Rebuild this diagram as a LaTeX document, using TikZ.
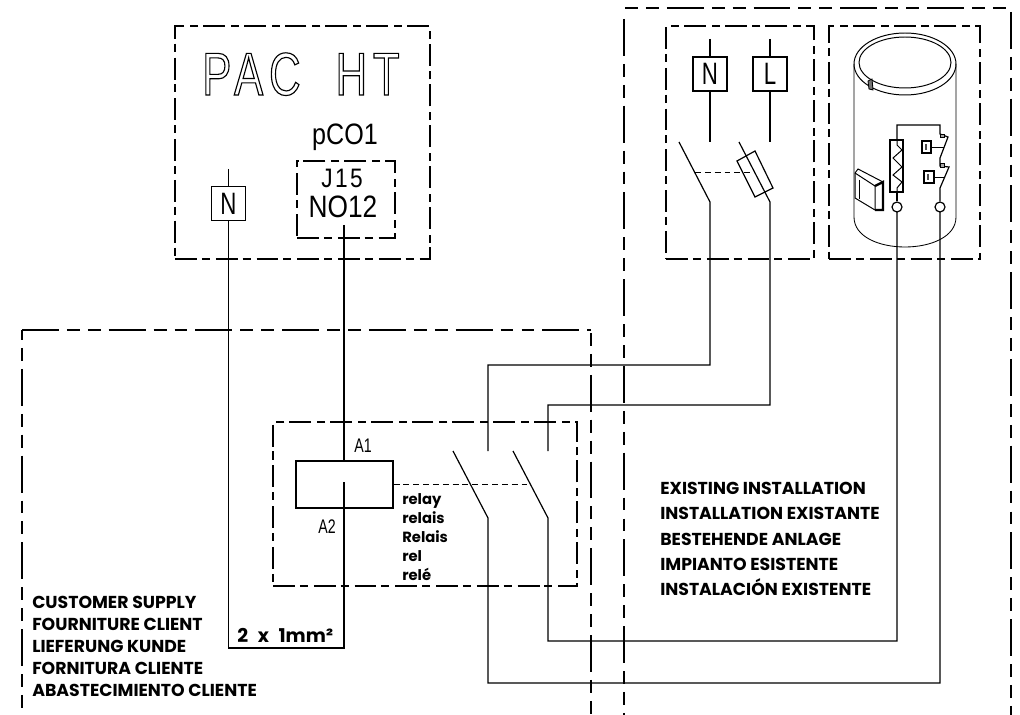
\documentclass[tikz,border=0pt]{standalone}
\usepackage{fontspec}
\setmainfont{Poppins}
\newfontfamily\cadfont[FakeStretch=0.85]{Liberation Sans}
\newfontfamily\cadnarrow[FakeStretch=0.72]{Liberation Sans}
\newfontfamily\cadwide[FakeStretch=0.72,LetterSpace=10]{Liberation Sans}
\newfontfamily\cadspaced[FakeStretch=0.85,LetterSpace=9]{Liberation Sans}
\def\px{0.25mm}

\begin{document}
\begin{tikzpicture}[
    x=0.25mm, y=-0.25mm,
    heavybox/.style={draw=black, line width=2pt, dash pattern=on 26.2pt off 5.7pt on 9.2pt off 5.7pt on 9.2pt off 5.7pt},
    thinbox/.style={draw=black, line width=0.95pt, inner sep=0pt, dash pattern=on 15.6pt off 3.5pt on 5.7pt off 4.2pt},
    wire/.style={draw=black, line width=0.85pt},
    link/.style={draw=black, line width=0.7pt, dash pattern=on 4.2pt off 2.8pt},
    termbox/.style={draw=black, fill=white, line width=0.85pt, inner sep=0pt, minimum size=34*\px, font=\cadnarrow\fontsize{22}{22}\selectfont},
    term/.style={circle, draw=black, fill=white, line width=0.85pt, inner sep=0pt, minimum size=10*\px},
    cad/.style={inner sep=0pt, font=\cadnarrow\fontsize{14}{14}\selectfont},
    label/.style={inner sep=0pt, anchor=north west, align=left}
  ]
    \useasboundingbox (0,0) rectangle (1020,715);

    % Zones client / existant
    \draw[heavybox] (22,330) -- (591,330);
    \draw[heavybox, dash phase=34pt] (22,330) -- (22,715);
    \draw[heavybox, dash phase=31.9pt] (591,333) -- (591,715);
    \draw[heavybox, dash phase=31.9pt] (625,8) -- (1011,8);
    \draw[heavybox] (624,19) -- (624,715);
    \draw[heavybox] (1011,12) -- (1011,715);

    % Boites
    \node[thinbox, minimum width=255*\px, minimum height=233*\px] (pac) at (302.5,142.5) {};
    \node[thinbox, minimum width=98*\px, minimum height=77*\px] (pco) at (346,199.5) {};
    \node[thinbox, minimum width=148*\px, minimum height=233*\px] (mains) at (740,142.5) {};
    \node[thinbox, minimum width=151*\px, minimum height=233*\px] (tank) at (904.5,142.5) {};
    \node[thinbox, minimum width=304*\px, minimum height=164*\px] (relaybox) at (425,504) {};

    % Textes PAC
    \node[inner sep=0pt, anchor=base west] (pactitle) at (202,95) {\cadwide\fontsize{43}{43}\selectfont\special{pdf:code 1 Tr 0.8 w}PAC\hspace{12pt} HT\special{pdf:code 0 Tr}};
    \node[cad, font=\cadfont\fontsize{21}{21}\selectfont] (pcolabel) at (345,137) {pCO1};
    \node[cad, font=\cadspaced\fontsize{19}{19}\selectfont] (j15) at (342,178) {J15};
    \node[cad, font=\cadfont\fontsize{22}{22}\selectfont] (no12) at (343,207) {NO12};

    % Bornes
    \node[termbox] (npac) at (228.5,203.5) {N};
    \node[termbox] (nmains) at (710,74) {N};
    \node[termbox] (lmains) at (770,74) {L};

    % Bobine
    \node[draw=black, line width=0.85pt, minimum width=97*\px, minimum height=47*\px, inner sep=0pt] (coil) at (344.5,484.5) {};
    \node[cad] (a1) at (363,446) {A1};
    \node[cad] (a2) at (327,527) {A2};

    % Contacts
    \coordinate (ntop) at (228.5,169);
    \coordinate (nmainstop) at (710,39);
    \coordinate (lmainstop) at (770,39);
    \coordinate (nfixed) at (710,142);
    \coordinate (lfixed) at (770,142);
    \coordinate (nfree) at (679,142);
    \coordinate (lfree) at (739,142);
    \coordinate (nhinge) at (710,202);
    \coordinate (lhinge) at (770,202);
    \coordinate (k1fixed) at (488,451);
    \coordinate (k2fixed) at (548,451);
    \coordinate (k1free) at (453,451);
    \coordinate (k2free) at (513,451);
    \coordinate (k1hinge) at (488,518);
    \coordinate (k2hinge) at (548,518);
    \coordinate (a2in) at (344,482);
    \coordinate (pcout) at (344,225);
    \coordinate (jleft) at (228.5,648);
    \coordinate (jright) at (344,648);

    % Fils
    \draw[wire] (ntop) -- (npac);
    \draw[wire] (npac) -- (jleft) -- (jright) -- (a2in);
    \draw[wire] (pcout) -- (344,461);
    \draw[wire] (nmainstop) -- (nmains) -- (nfixed);
    \draw[wire] (lmainstop) -- (lmains) -- (lfixed);
    \draw[wire] (nfree) -- (nhinge) -- (710,365) -- (488,365) -- (k1fixed);
    \draw[wire] (lfree) -- (lhinge) -- (770,405) -- (548,405) -- (k2fixed);
    \draw[wire] (k1free) -- (k1hinge) -- (488,683) -- (940,683) -- (940,207);
    \draw[wire] (k2free) -- (k2hinge) -- (548,641) -- (897,641) -- (897,207);
    \draw[link] (coil.east |- 0,484) -- (530,484);
    \draw[link] (695,172) -- (755,172);
    % Fusible
    \draw[wire] (737,161) -- (755,151) -- (773,188) -- (755,197) -- cycle;

    % Ballon
    \draw[line width=0.7pt] (905,64) ellipse [x radius=51, y radius=31];
    \draw[line width=0.7pt] (905,62.5) ellipse [x radius=46, y radius=25.5];
    \draw[line width=0.6pt] (854,64) -- (854,217) .. controls (854,257) and (956,257) .. (956,217) -- (956,64);
    \draw[line width=0.6pt, fill=black!55] (868,81) -- (872,79) -- (873,90) -- (869,89) -- cycle;
    % Tableau
    \draw[line width=0.7pt, fill=white] (855,173) -- (858,169) -- (883,182) -- (883,210) -- (875,210) -- (855,198) -- cycle;
    \draw[line width=0.7pt] (855,173) -- (875,186) -- (875,210);
    \draw[line width=1.6pt] (875,186) -- (883,182) -- (883,210) -- (875,210);
    \draw[line width=0.5pt] (859,180) -- (859,199);
    % Resistance et thermostats
    \draw[wire, fill=white] (890,140) rectangle (903,192);
    \draw[line width=0.7pt] (897,140) -- (897,145) -- (902,150) -- (893,158) -- (902,167) -- (893,175) -- (902,182) -- (897,188) -- (897,192);
    \node[term] (term1) at (897,207) {};
    \node[term] (term2) at (940,207) {};
    \draw[wire] (897,192) -- (term1);
    \draw[wire] (897,140) -- (897,125) -- (940,125) -- (940,134) -- (948,137) -- (940,158) -- (940,166) -- (949,167) -- (940,188) -- (term2);
    \draw[line width=0.7pt, fill=black!35] (940,134) rectangle (944,137);
    \draw[line width=0.7pt, fill=black!35] (940,163) rectangle (944,167);
    \draw[line width=0.9pt, fill=white] (922,141) rectangle (931,153);
    \draw[line width=0.9pt, fill=white] (924,171) rectangle (934,183);
    \draw[line width=1.4pt, black!70] (926,144) -- (926,150);
    \draw[line width=1.4pt, black!70] (928,174) -- (928,180);
    \draw[line width=0.5pt] (931,147) -- (944,147);
    \draw[line width=0.5pt] (934,177) -- (945,177);

    % Legendes
    \node[label, font=\fontsize{12.3}{15.6}\selectfont\bfseries] (customer) at (32,596) {CUSTOMER SUPPLY\\FOURNITURE CLIENT\\LIEFERUNG KUNDE\\FORNITURA CLIENTE\\ABASTECIMIENTO CLIENTE};
    \node[label, font=\fontsize{12.3}{18}\selectfont\bfseries] (existing) at (660,482) {EXISTING INSTALLATION\\INSTALLATION EXISTANTE\\BESTEHENDE ANLAGE\\IMPIANTO ESISTENTE\\INSTALACIÓN EXISTENTE};
    \node[label, font=\fontsize{10.5}{13.5}\selectfont\bfseries] (relaytext) at (402,493) {relay\\relais\\Relais\\rel\\relé};
    \node[inner sep=0pt, anchor=base west, font=\fontsize{13.5}{15}\selectfont\bfseries] (section) at (237,642) {2\hspace{4pt} x\hspace{4pt} 1mm²};
  \end{tikzpicture}
\end{document}
